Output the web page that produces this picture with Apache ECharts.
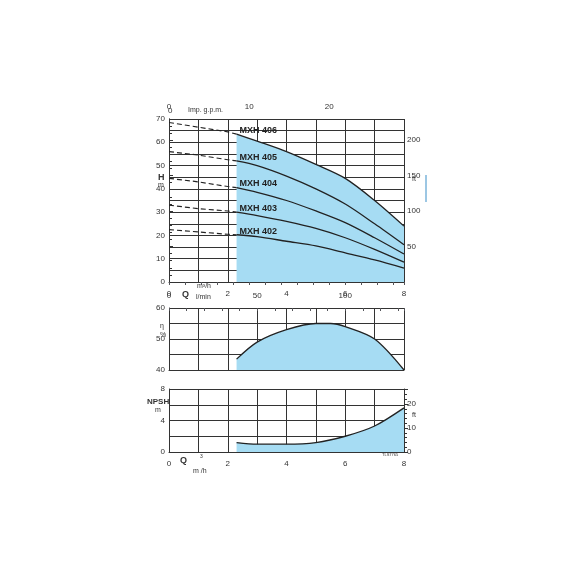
<!DOCTYPE html>
<html><head><meta charset="utf-8">
<script src="https://cdn.jsdelivr.net/npm/echarts@6/dist/echarts.min.js"></script>
<style>html,body{margin:0;background:#fff}#c{width:570px;height:570px}</style>
</head><body><div id="c"></div>
<script>
// 流量 m3/h
var qDash = [0, 1, 2, 2.3];
var qSolid = [2.3, 3, 4, 5, 6, 7, 8];
var h406d = [68.5, 66.5, 64.5, 63.5], h406 = [63.5, 60.5, 56, 50.5, 44.5, 35, 24];
var h405d = [56, 54.5, 52.5, 52], h405 = [52, 50, 45.5, 40, 33.5, 25, 16];
var h404d = [44.5, 43, 41, 40.5], h404 = [40.5, 38.5, 35, 30.5, 25.5, 19, 12];
var h403d = [33, 31.5, 30.5, 30], h403 = [30, 28.5, 26, 23, 19, 14, 8.5];
var h402d = [22.5, 21.5, 20.5, 20.3], h402 = [20.3, 19.5, 17.5, 15.5, 12.5, 9.5, 6];
var qEff = [2.3, 3, 4, 5, 5.5, 6, 7, 8];
var eff = [43.5, 49, 53, 55, 55, 54, 50, 40];
var qNpsh = [2.3, 3, 4, 5, 6, 7, 8];
var npsh = [1.2, 1, 1, 1.2, 2, 3.3, 5.6];
var models = ['MXH 406', 'MXH 405', 'MXH 404', 'MXH 403', 'MXH 402'];

var fill = '#a6dcf3', ink = '#222';
function pair(xs, ys) { return xs.map(function (x, i) { return [x, ys[i]]; }); }
var dim = {color: '#333', fontSize: 8, fontFamily: 'Liberation Sans'};
var spl = {show: true, lineStyle: {color: '#333', width: 1}};
function xAx(gi, labels) {
  return {type: 'value', gridIndex: gi, min: 0, max: 8, interval: 1, splitLine: spl,
    axisLine: {lineStyle: {color: '#333'}}, axisTick: {show: false},
    axisLabel: Object.assign({show: labels, formatter: function (v) { return v % 2 ? '' : v; }}, dim)};
}
function yAx(gi, min, max, iv, every) {
  return {type: 'value', gridIndex: gi, min: min, max: max, interval: iv, splitLine: spl,
    axisLine: {show: true, lineStyle: {color: '#333'}}, axisTick: {show: false},
    axisLabel: Object.assign({margin: 4, formatter: function (v) { return v % every ? '' : v; }}, dim)};
}
function secX(gi, max, iv) {
  return {type: 'value', gridIndex: gi, position: 'top', min: 0, max: max, interval: iv,
    axisLine: {show: false}, splitLine: {show: false}, minorTick: {show: true, splitNumber: 5, length: 3},
    axisTick: {length: 3, inside: true}, axisLabel: Object.assign({showMaxLabel: false}, dim)};
}
function secY(gi, max, iv) {
  return {type: 'value', gridIndex: gi, position: 'right', min: 0, max: max, interval: iv,
    splitLine: {show: false}, axisLine: {show: true, lineStyle: {color: '#333'}},
    minorTick: {show: true, splitNumber: 5, length: 3}, axisTick: {length: 4},
    axisLabel: Object.assign({showMaxLabel: false, showMinLabel: gi === 2, margin: 3}, dim)};
}
var series = [];
var hd = [h406d, h405d, h404d, h403d, h402d], hs = [h406, h405, h404, h403, h402];
hs.forEach(function (h, i) {
  series.push({type: 'line', xAxisIndex: 0, yAxisIndex: 0, data: pair(qDash, hd[i]), showSymbol: false,
    lineStyle: {color: ink, width: 1.2, type: [5, 3]}, z: 3});
  series.push({type: 'line', xAxisIndex: 0, yAxisIndex: 0, data: pair(qSolid, h), showSymbol: false, smooth: 0.3,
    lineStyle: {color: ink, width: 1.3}, areaStyle: i === 0 ? {color: fill, opacity: 1} : null, z: i === 0 ? 1 : 3});
});
series.push({type: 'line', xAxisIndex: 2, yAxisIndex: 2, data: pair(qEff, eff), showSymbol: false, smooth: 0.3,
  lineStyle: {color: ink, width: 1.3}, areaStyle: {color: fill, opacity: 1, origin: 'start'}});
series.push({type: 'line', xAxisIndex: 4, yAxisIndex: 4, data: pair(qNpsh, npsh), showSymbol: false, smooth: 0.3,
  lineStyle: {color: ink, width: 1.3}, areaStyle: {color: fill, opacity: 1, origin: 'start'}});

var chart = echarts.init(document.getElementById('c'));
chart.setOption({
  animation: false,
  grid: [{left: 169, right: 166, top: 119, height: 163},
         {left: 169, right: 166, top: 308, height: 62},
         {left: 169, right: 166, top: 389, height: 63}],
  xAxis: [xAx(0, true), secX(0, 8 / 0.2728, 10), xAx(1, false), secX(1, 8000 / 60, 50), xAx(2, true)],
  yAxis: [yAx(0, 0, 70, 5, 10), secY(0, 70 / 0.3048, 50), yAx(1, 40, 60, 5, 10), secY(1, 1, 1), yAx(2, 0, 8, 2, 4), secY(2, 8 / 0.3048, 10)],
  series: series
});
chart.setOption({yAxis: [{}, {}, {}, {show: false}, {}, {}]});
// 曲线标签
var labY = [64.5, 53, 41.5, 31, 21];
var g = [];
models.forEach(function (m, i) {
  var p = chart.convertToPixel({xAxisIndex: 0, yAxisIndex: 0}, [2.4, labY[i]]);
  g.push({type: 'text', x: p[0], y: p[1] - 6, z: 10, style: {text: m, font: 'bold 9px Liberation Sans', fill: '#222', backgroundColor: 'rgba(0,0,0,0)'}});
});
var t = function (x, y, s, f) { g.push({type: 'text', x: x, y: y, style: {text: s, font: f || '7px Liberation Sans', fill: '#333'}}); };
t(188, 107, 'Imp. g.p.m.'); t(168, 107, '0', '8px Liberation Sans');
t(158, 173, 'H', 'bold 9px Liberation Sans'); t(158, 182, 'm');
t(197, 283, 'm³/h'); t(182, 290, 'Q', 'bold 9px Liberation Sans'); t(196, 294, 'l/min');
t(412, 176, 'ft'); t(160, 323, 'η'); t(160, 332, '%');
t(147, 398, 'NPSH', 'bold 8px Liberation Sans'); t(155, 407, 'm');
t(412, 412, 'ft'); t(180, 456, 'Q', 'bold 9px Liberation Sans'); t(193, 468, 'm /h'); t(200, 454, '3', '5px Liberation Sans');
t(382, 453, 'TLS7765', '4px Liberation Sans');
g.push({type: 'line', shape: {x1: 426, y1: 175, x2: 426, y2: 202}, style: {stroke: '#3a8fc8', lineWidth: 1}});
chart.setOption({graphic: g});
</script></body></html>
